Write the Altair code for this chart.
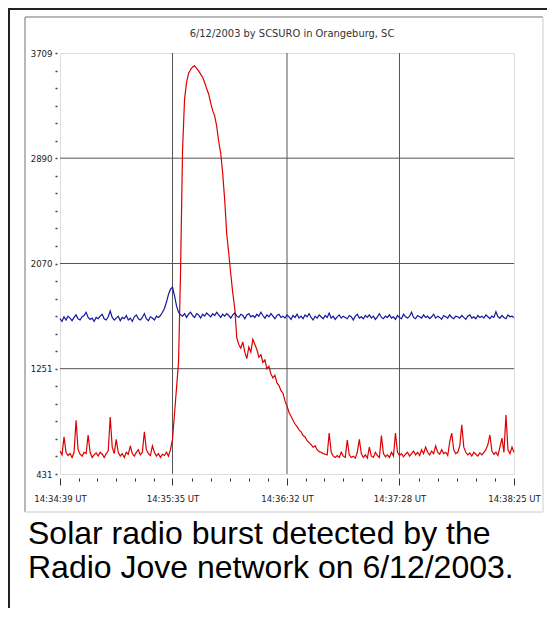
import altair as alt
import pandas as pd

# ---------------- data ----------------
TITLE = "6/12/2003 by SCSURO in Orangeburg, SC"
CAPTION = ["Solar radio burst detected by the", "Radio Jove network on 6/12/2003."]

# x positions are seconds after 14:34:39 UT
TIME_TICKS = [0, 56, 113, 169, 226]
TIME_LABELS = ["14:34:39 UT", "14:35:35 UT", "14:36:32 UT", "14:37:28 UT", "14:38:25 UT"]
Y_TICKS = [431, 1251, 2070, 2890, 3709]

SECONDS = list(range(227))

RED = [
    610, 580, 720, 600, 575, 590, 560, 600, 850, 620,
    585, 570, 600, 590, 735, 600, 560, 580, 595, 570,
    600, 585, 560, 590, 610, 875, 640, 590, 700, 600,
    570, 590, 560, 600, 585, 650, 590, 570, 600, 620,
    580, 600, 760, 620, 590, 575, 650, 600, 570, 590,
    560, 585, 575, 600, 570, 620, 700, 900, 1100, 1300,
    2000, 2950, 3350, 3480, 3550, 3580, 3600, 3610, 3590, 3570,
    3545, 3520, 3480, 3430, 3390, 3320, 3260, 3220, 3140, 3020,
    2930, 2770, 2560, 2300, 2150, 1990, 1840, 1720, 1490, 1440,
    1410, 1460, 1380, 1330, 1420, 1380, 1480, 1440, 1400, 1340,
    1360, 1300, 1320, 1250, 1270, 1210, 1180, 1200, 1140, 1120,
    1080, 1060, 1000, 960, 910, 880, 850, 820, 800, 775,
    760, 730, 720, 690, 675, 660, 640, 650, 620, 605,
    600, 590, 585, 580, 750, 600, 570, 560, 575, 560,
    600, 570, 560, 695, 580, 560, 570, 555, 600, 700,
    590, 560, 580, 555, 640, 570, 560, 600, 575, 560,
    730, 590, 565, 580, 560, 600, 570, 750, 600, 575,
    590, 565, 585, 600, 570, 590, 610, 580, 600, 575,
    620, 590, 640, 600, 580, 610, 590, 650, 600, 585,
    620, 590, 600, 575, 680, 750, 620, 590, 600, 650,
    815, 640, 600, 580, 595, 570, 600, 585, 570, 595,
    580, 600, 620, 660, 735, 610, 585, 600, 575, 640,
    710, 600, 890, 620, 590, 640, 600,
]

BLUE = [
    1640, 1620, 1655, 1630, 1660, 1645, 1625, 1650, 1670, 1640,
    1630, 1655, 1665, 1690, 1650, 1635, 1645, 1620, 1650, 1640,
    1660, 1675, 1640, 1630, 1655, 1700, 1650, 1630, 1645, 1660,
    1625, 1650, 1640, 1665, 1630, 1645, 1620, 1655, 1670, 1640,
    1630, 1650, 1680, 1640, 1625, 1655, 1645, 1630, 1660, 1650,
    1665, 1690, 1720, 1770, 1830, 1870, 1885, 1820, 1740, 1690,
    1670, 1660, 1680, 1650, 1675, 1690, 1665, 1650, 1680, 1670,
    1645, 1675, 1660, 1685, 1670, 1655, 1680, 1665, 1690, 1670,
    1650, 1675, 1660, 1680, 1665, 1645, 1670, 1685, 1660, 1650,
    1675, 1665, 1640, 1670, 1680, 1655, 1665, 1650, 1675, 1660,
    1690, 1665, 1645, 1670, 1655, 1680, 1660, 1640, 1665, 1675,
    1650, 1660, 1645, 1670, 1655, 1635, 1665, 1650, 1675, 1645,
    1660, 1640, 1670, 1655, 1680, 1650, 1630, 1660, 1645, 1670,
    1655, 1640, 1665, 1650, 1685, 1645, 1660, 1635, 1655, 1670,
    1645, 1660, 1650, 1640, 1665, 1655, 1630, 1660, 1675, 1645,
    1655, 1640, 1665, 1650, 1670, 1645, 1660, 1635, 1655, 1680,
    1650, 1640, 1660, 1650, 1670, 1645, 1655, 1635, 1665, 1650,
    1640, 1675, 1655, 1645, 1660, 1690, 1650, 1640, 1665, 1655,
    1645, 1670, 1650, 1660, 1640, 1655, 1675, 1645, 1660, 1650,
    1635, 1665, 1655, 1645, 1670, 1650, 1640, 1660, 1655, 1645,
    1665, 1650, 1635, 1660, 1670, 1645, 1655, 1640, 1665, 1650,
    1660, 1645, 1670, 1655, 1640, 1660, 1650, 1695, 1655, 1645,
    1665, 1650, 1640, 1670, 1655, 1660, 1650,
]

# ---------------- helpers ----------------
W, H = 454, 421
NARROW = "Liberation Sans Narrow, Arial Narrow, DejaVu Sans Condensed, sans-serif"
SANS = "Liberation Sans, Arial, Helvetica, sans-serif"


def subdivide(majors, n=6):
    out = []
    for a, b in zip(majors[:-1], majors[1:]):
        out += [a + k * (b - a) / n for k in range(n)]
    return out + [majors[-1]]


x_ticks_all = subdivide(TIME_TICKS)
y_ticks_all = subdivide(Y_TICKS)

x_major_test = "indexof([" + ",".join(str(v) for v in TIME_TICKS) + "], datum.value) >= 0"
y_major_test = "indexof([" + ",".join(str(v) for v in Y_TICKS) + "], datum.value) >= 0"
x_label_expr = " : ".join(
    f"datum.value == {v} ? '{l}'" for v, l in zip(TIME_TICKS, TIME_LABELS)
) + " : ''"
y_label_expr = f"{y_major_test} ? '' + datum.value : ''"

x_enc = alt.X(
    "t:Q",
    title=None,
    scale=alt.Scale(domain=[TIME_TICKS[0], TIME_TICKS[-1]], nice=False, zero=False),
    axis=alt.Axis(
        values=x_ticks_all,
        labelExpr=x_label_expr,
        grid=False,
        domain=False,
        offset=4,
        tickSize={"condition": {"test": x_major_test, "value": 7}, "value": 3},
        tickColor="#333333",
        tickWidth=1,
        labelFont=NARROW,
        labelFontSize=9.5,
        labelColor="#222222",
        labelPadding=8,
        labelFlush=False,
        labelOverlap=False,
    ),
)
y_enc = alt.Y(
    "v:Q",
    title=None,
    scale=alt.Scale(domain=[Y_TICKS[0], Y_TICKS[-1]], nice=False, zero=False),
    axis=alt.Axis(
        values=y_ticks_all,
        labelExpr=y_label_expr,
        grid=False,
        domain=False,
        offset=3,
        tickSize=2,
        tickColor="#444444",
        tickWidth=1.5,
        labelFont=NARROW,
        labelFontSize=9.5,
        labelColor="#222222",
        labelPadding=3,
        labelFlush=False,
        labelOverlap=False,
    ),
)

one = alt.Data(values=[{}])

# decorative frames (outer black frame, grey panel)
outer_top = alt.Chart(one).mark_rule(color="#222222", strokeWidth=2).encode(
    x=alt.value(-52), x2=alt.value(487), y=alt.value(-44))
outer_left = alt.Chart(one).mark_rule(color="#222222", strokeWidth=2).encode(
    x=alt.value(-51), y=alt.value(-45), y2=alt.value(555))
panel_top = alt.Chart(one).mark_rule(color="#a0a0a0", strokeWidth=1.5).encode(
    x=alt.value(-35), x2=alt.value(483), y=alt.value(-36))
panel_left = alt.Chart(one).mark_rule(color="#a0a0a0", strokeWidth=1.5).encode(
    x=alt.value(-35), y=alt.value(-36), y2=alt.value(459))
panel_right = alt.Chart(one).mark_rule(color="#dcdcdc", strokeWidth=1.5).encode(
    x=alt.value(483), y=alt.value(-36), y2=alt.value(459))
panel_bottom = alt.Chart(one).mark_rule(color="#dcdcdc", strokeWidth=1.5).encode(
    x=alt.value(-35), x2=alt.value(483), y=alt.value(459))

# grid lines at the major ticks
vgrid = alt.Chart(pd.DataFrame({"t": TIME_TICKS[1:-1]})).mark_rule(
    color="#555555", strokeWidth=1).encode(x=x_enc)
hgrid = alt.Chart(pd.DataFrame({"v": Y_TICKS[1:-1]})).mark_rule(
    color="#555555", strokeWidth=1).encode(y=y_enc)

red = alt.Chart(pd.DataFrame({"t": SECONDS, "v": RED})).mark_line(
    color="#dc0000", strokeWidth=1.2).encode(x=x_enc, y=y_enc)
blue = alt.Chart(pd.DataFrame({"t": SECONDS, "v": BLUE})).mark_line(
    color="#16169e", strokeWidth=1.2).encode(x=x_enc, y=y_enc)

title = alt.Chart(one).mark_text(
    text=TITLE, font=NARROW, fontSize=11, color="#333333",
    align="center", baseline="middle").encode(x=alt.value(232), y=alt.value(-19))
caption = alt.Chart(one).mark_text(
    text=CAPTION, font=SANS, fontSize=32, color="#000000", lineHeight=34,
    align="left", baseline="alphabetic").encode(x=alt.value(-32), y=alt.value(491))

chart = alt.layer(
    outer_top, outer_left, panel_top, panel_left, panel_right, panel_bottom,
    vgrid, hgrid, red, blue, title, caption,
).properties(
    width=W, height=H,
    autosize=alt.AutoSizeParams(type="none"),
    padding={"left": 52, "top": 45, "right": 33, "bottom": 134},
).configure_view(
    stroke="#444444", strokeWidth=1.5, fill="white"
).configure(background="white")

chart.save("out.html", embed_options={"renderer": "svg", "actions": False})
